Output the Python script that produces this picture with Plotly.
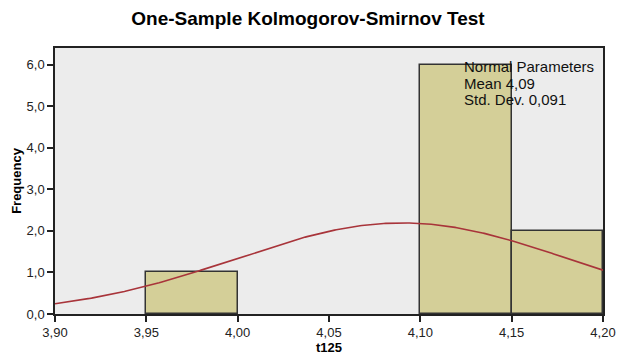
import numpy as np
import plotly.graph_objects as go

# Histogram data
bin_left = [3.95, 4.10, 4.15]
bin_right = [4.00, 4.15, 4.20]
counts = [1, 6, 2]

# Normal curve parameters
mean_val = 4.09
std_dev = 0.091
n_obs = 10
bin_width = 0.05

x_ticks = [3.90, 3.95, 4.00, 4.05, 4.10, 4.15, 4.20]
x_ticktext = ["3,90", "3,95", "4,00", "4,05", "4,10", "4,15", "4,20"]
y_ticks = [0, 1, 2, 3, 4, 5, 6]
y_ticktext = ["0,0", "1,0", "2,0", "3,0", "4,0", "5,0", "6,0"]
legend_lines = ["Normal Parameters", "Mean 4,09", "Std. Dev. 0,091"]

centers = [(a + b) / 2 for a, b in zip(bin_left, bin_right)]
widths = [b - a for a, b in zip(bin_left, bin_right)]

xs = np.linspace(3.90, 4.20, 301)
ys = n_obs * bin_width / (std_dev * np.sqrt(2 * np.pi)) * np.exp(-0.5 * ((xs - mean_val) / std_dev) ** 2)

fig = go.Figure()
fig.add_trace(go.Bar(
    x=centers, y=counts, width=widths,
    marker=dict(color="#D4CF98", line=dict(color="#333333", width=1.5)),
    hoverinfo="skip", showlegend=False,
))
fig.add_trace(go.Scatter(
    x=xs, y=ys, mode="lines",
    line=dict(color="#A8343A", width=1.6),
    hoverinfo="skip", showlegend=False,
))

# page body has an 8px default margin; figure is sized to compensate
W, Hh = 620, 356
PAD = 8
H_PLOT = 266.0
annotations = []
for i, line in enumerate(legend_lines):
    annotations.append(dict(
        xref="paper", yref="paper", x=(462 - 55) / 548, y=1 - (67 + 16 * i - 48) / H_PLOT,
        xanchor="left", yanchor="middle", align="left", showarrow=False,
        text=line, font=dict(size=15, color="#111111"),
    ))

fig.update_layout(
    width=W, height=Hh,
    margin=dict(l=55 - PAD, r=25, t=48 - PAD, b=50, autoexpand=False),
    paper_bgcolor="white",
    plot_bgcolor="#ECECEC",
    font=dict(family="Liberation Sans, Arial, sans-serif", size=13, color="#222222"),
    title=dict(
        text="<b>One-Sample Kolmogorov-Smirnov Test</b>",
        x=(308 - PAD) / W, xanchor="center", y=1 - (18 - PAD) / Hh, yanchor="middle",
        font=dict(size=19, color="#000000"),
    ),
    bargap=0,
    xaxis=dict(
        range=[3.90, 4.20], tickvals=x_ticks, ticktext=x_ticktext,
        showgrid=False, zeroline=False, automargin=False,
        showline=True, linecolor="#222222", linewidth=1.5, mirror=True,
        ticks="outside", ticklen=6, tickcolor="#222222", tickwidth=1.5,
        title=dict(text="<b>t125</b>", font=dict(size=13, color="#000000"), standoff=2),
    ),
    yaxis=dict(
        range=[0, 6.40], tickvals=y_ticks, ticktext=y_ticktext,
        showgrid=False, zeroline=False, automargin=False,
        showline=True, linecolor="#222222", linewidth=1.5, mirror=True,
        ticks="outside", ticklen=6, tickcolor="#222222", tickwidth=1.5,
        title=dict(text="<b>Frequency</b>", font=dict(size=13, color="#000000"), standoff=2),
    ),
    annotations=annotations,
)

fig.write_html("out.html")
